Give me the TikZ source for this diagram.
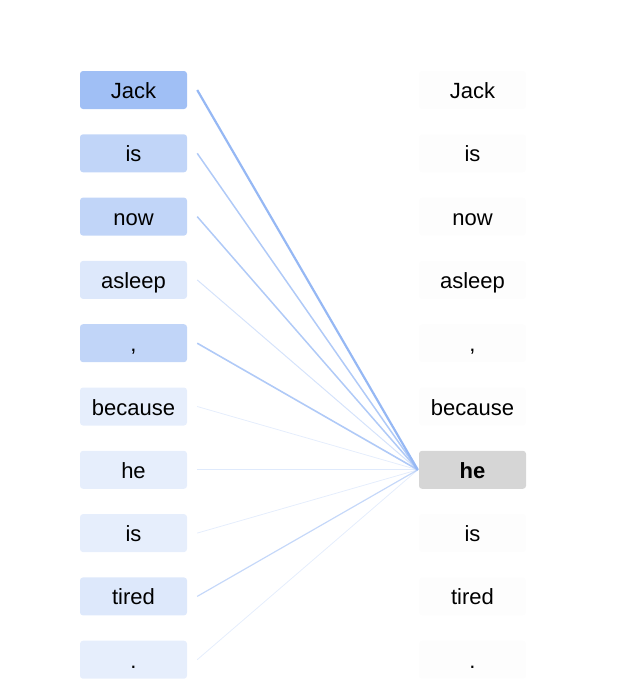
\documentclass[tikz,border=0pt]{standalone}
\usepackage{fontspec}
\setmainfont{Liberation Sans}
\begin{document}
\begin{tikzpicture}[x=1pt,y=-1pt,
  tok/.style={rounded corners=3pt, minimum width=107pt, minimum height=38pt, inner sep=0pt, text height=18.5pt, text depth=1.5pt, font=\fontsize{22}{26}\selectfont, text=black},
  rtok/.style={tok, fill=gray!1.5},
  att/.style={draw=attblue, line width=#1}]
\definecolor{attblue}{RGB}{150,184,244}
\definecolor{a1}{RGB}{160,191,245}
\definecolor{a2}{RGB}{193,213,248}
\definecolor{a3}{RGB}{221,232,251}
\definecolor{a4}{RGB}{230,238,252}
\useasboundingbox (0,0) rectangle (628,696);
\foreach \i/\w/\c in {1/Jack/a1,2/is/a2,3/now/a2,4/asleep/a3,5/{,}/a2,6/because/a4,7/he/a4,8/is/a4,9/tired/a3,10/./a4}{
  \node[tok, fill=\c] (l\i) at (133.5, {90+63.3*(\i-1)}) {\w};
}
\foreach \i/\w in {1/Jack,2/is,3/now,4/asleep,5/{,},6/because,8/is,9/tired,10/.}{
  \node[rtok] (r\i) at (472.5, {90+63.3*(\i-1)}) {\w};
}
\node[tok, fill=black!16, font=\fontsize{22}{26}\selectfont\bfseries] (r7) at (472.5, {90+63.3*6}) {he};
\coordinate (tgt) at ([xshift=-1pt]r7.west);
\foreach \i/\o/\lw in {1/1/2.2,2/0.75/1.5,3/0.75/1.5,4/0.4/1,5/0.75/1.6,6/0.25/0.8,7/0.3/0.8,8/0.25/0.8,9/0.55/1.2,10/0.25/0.8}{
  \draw[att=\lw pt, draw opacity=\o] ([xshift=10pt]l\i.east) -- (tgt);
}
\end{tikzpicture}
\end{document}
